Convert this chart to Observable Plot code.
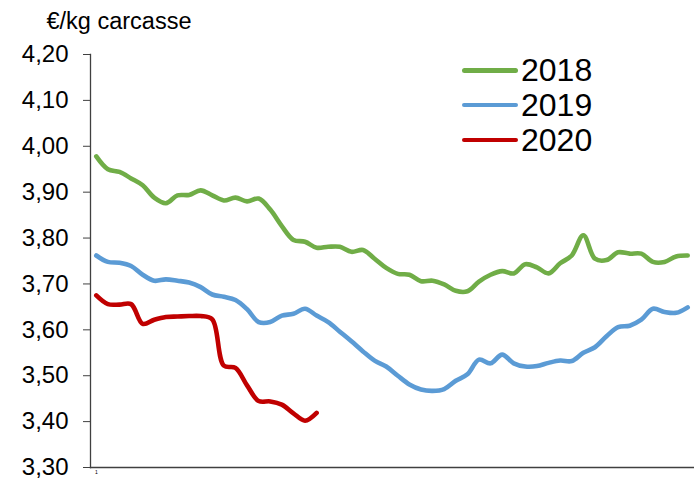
<!DOCTYPE html>
<html>
<head>
<meta charset="utf-8">
<script src="https://cdn.jsdelivr.net/npm/d3@7"></script>
<script src="https://cdn.jsdelivr.net/npm/@observablehq/plot@0.6"></script>
<style>
  html, body { margin: 0; padding: 0; background: #fff; }
  #wrap { position: relative; width: 694px; height: 478px; font-family: "Liberation Sans", Arial, sans-serif; }
  #legend { position: absolute; left: 462px; top: 53px; }
  .item { display: flex; align-items: center; height: 34.8px; }
  .sw { width: 56px; height: 4.6px; border-radius: 3px; margin-right: 3px; }
  .lab { font-size: 32px; line-height: 32px; color: #000; }
</style>
</head>
<body>
<div id="wrap"></div>
<script>
const years = ["2018", "2019", "2020"];
const colors = ["#70AD47", "#5B9BD5", "#C00000"];
const weeks = d3.range(1, 53);
const y2018 = [3.978, 3.950, 3.944, 3.930, 3.915, 3.888, 3.876, 3.893, 3.894, 3.904,
  3.893, 3.882, 3.888, 3.880, 3.886, 3.862, 3.826, 3.796, 3.792, 3.779,
  3.781, 3.781, 3.770, 3.774, 3.755, 3.735, 3.722, 3.720, 3.706, 3.707,
  3.699, 3.685, 3.684, 3.705, 3.720, 3.728, 3.723, 3.743, 3.736, 3.723,
  3.745, 3.762, 3.806, 3.755, 3.752, 3.769, 3.766, 3.766, 3.748, 3.748,
  3.760, 3.762];
const y2019 = [3.762, 3.748, 3.746, 3.739, 3.720, 3.707, 3.710, 3.707, 3.703, 3.693,
  3.677, 3.672, 3.665, 3.645, 3.617, 3.617, 3.631, 3.635, 3.646, 3.631,
  3.617, 3.596, 3.575, 3.553, 3.533, 3.520, 3.500, 3.481, 3.470, 3.467,
  3.471, 3.489, 3.503, 3.535, 3.527, 3.546, 3.527, 3.520, 3.521, 3.528,
  3.533, 3.532, 3.550, 3.562, 3.586, 3.606, 3.609, 3.622, 3.646, 3.639,
  3.637, 3.649];
const y2020 = [3.675, 3.656, 3.655, 3.656, 3.613, 3.622, 3.628, 3.629, 3.630, 3.630,
  3.623, 3.522, 3.517, 3.479, 3.445, 3.444, 3.437, 3.418, 3.402, 3.419];
const yTicks = [3.30, 3.40, 3.50, 3.60, 3.70, 3.80, 3.90, 4.00, 4.10, 4.20];
const xTicks = [1];
const unitLabel = "€/kg carcasse";

const series = [y2018, y2019, y2020];
const data = [];
series.forEach((vals, i) => vals.forEach((v, j) => data.push({year: years[i], week: weeks[j], value: v})));

const fmt = d => d.toFixed(2).replace(".", ",");

const chart = Plot.plot({
  width: 694,
  height: 478,
  marginTop: 54,
  marginBottom: 11,
  marginLeft: 90,
  marginRight: 1,
  style: {fontFamily: "Liberation Sans, Arial, sans-serif", color: "#000", background: "#fff"},
  x: {domain: [0.5, 52.5]},
  y: {domain: [3.30, 4.20]},
  color: {domain: years, range: colors},
  marks: [
    Plot.frame({anchor: "left", stroke: "#404040", strokeWidth: 1.3}),
    Plot.frame({anchor: "bottom", stroke: "#404040", strokeWidth: 1.3}),
    Plot.axisY({ticks: yTicks, tickFormat: fmt, tickSize: 7, tickPadding: 15, fontSize: 24, stroke: "#404040", label: null}),
    Plot.axisX({ticks: xTicks, tickSize: 0, tickPadding: 3, fontSize: 5, label: null}),
    Plot.text([unitLabel], {text: d => d, frameAnchor: "top-left", dx: -44, dy: -26, textAnchor: "start", lineAnchor: "bottom", fontSize: 23.5, fill: "#000"}),
    Plot.lineY(data, {x: "week", y: "value", stroke: "year", z: "year", curve: "catmull-rom", strokeWidth: 4.6, strokeLinecap: "round", strokeLinejoin: "round"})
  ]
});

const wrap = document.getElementById("wrap");
wrap.appendChild(chart);
const legend = document.createElement("div");
legend.id = "legend";
years.forEach((y, i) => {
  const it = document.createElement("div");
  it.className = "item";
  it.innerHTML = `<div class="sw" style="background:${colors[i]}"></div><div class="lab">${y}</div>`;
  legend.appendChild(it);
});
wrap.appendChild(legend);
</script>
</body>
</html>
